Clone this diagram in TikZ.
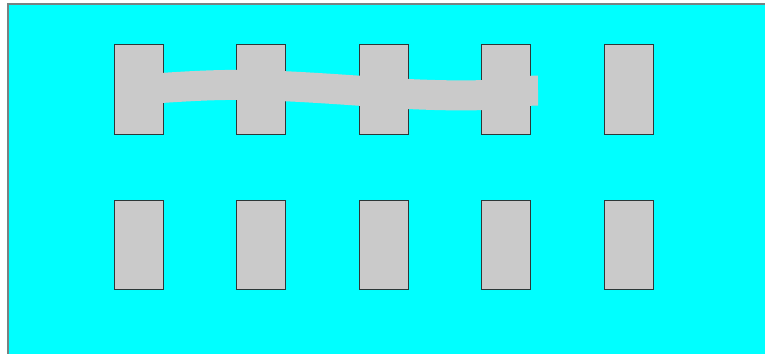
\documentclass[tikz,border=0pt]{standalone}
\usetikzlibrary{positioning}
\definecolor{padGray}{RGB}{202,202,202}
\definecolor{boardCyan}{RGB}{0,255,255}
\definecolor{edgeDark}{RGB}{45,55,55}
\definecolor{frameGray}{RGB}{120,130,130}

\begin{document}
\begin{tikzpicture}[x=0.025cm, y=-0.025cm,
  pad/.style={rectangle, draw=edgeDark, fill=padGray, line width=0.6pt,
              minimum width=1.225cm, minimum height=2.2375cm, inner sep=0pt},
  band/.style={padGray, line width=0.75cm, line cap=butt},
]

\def\xs{122.5}  % horizontal spacing between pads
\def\xo{138.5}  % x of first pad column

% board
\useasboundingbox (0,0) rectangle (765,354);
\fill[boardCyan, draw=frameGray, line width=0.8pt] (8,4) rectangle (790,380);

% ─── pad rows ──────────────────────────────────────────────────
\foreach \i in {1,...,5}{
  \node[pad] (t\i) at ({\xo+(\i-1)*\xs}, 89.5) {};
  \node[pad] (b\i) at ({\xo+(\i-1)*\xs}, 245) {};
}

% ─── trace across the top row ──────────────────────────────────
\coordinate (tend) at (538,90.7);
\draw[band] (t1.center) .. controls (190,86) and (215,84.5) .. (250,85)
  .. controls (300,86) and (360,91) .. (408,94)
  .. controls (450,96) and (490,96) .. (510,93)
  .. controls (520,91) and (525,90.7) .. (tend);

\end{tikzpicture}
\end{document}
